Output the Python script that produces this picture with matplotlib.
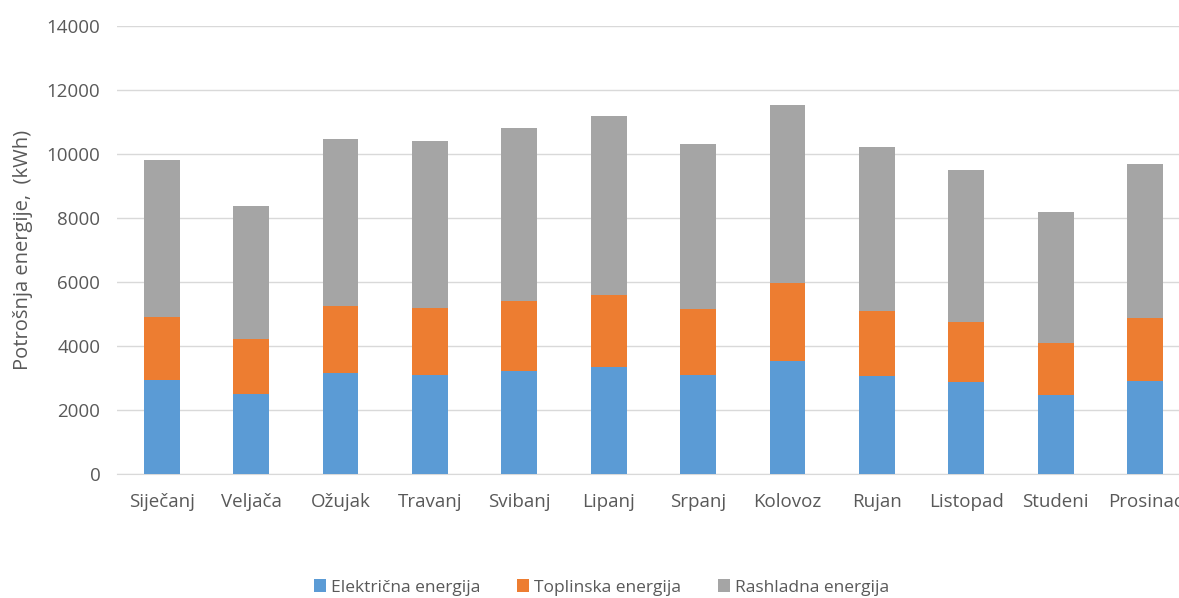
import numpy as np
import matplotlib.pyplot as plt

# Mjeseci i vrijednosti (kWh)
mjeseci = ['Siječanj', 'Veljača', 'Ožujak', 'Travanj', 'Svibanj', 'Lipanj',
           'Srpanj', 'Kolovoz', 'Rujan', 'Listopad', 'Studeni', 'Prosinac']
elektricna = [2950, 2500, 3150, 3100, 3220, 3350, 3100, 3540, 3060, 2870, 2480, 2920]
toplinska = [1950, 1730, 2100, 2100, 2180, 2250, 2070, 2430, 2040, 1870, 1620, 1940]
rashladna = [4900, 4140, 5230, 5200, 5400, 5600, 5130, 5550, 5110, 4760, 4090, 4830]

plt.rcParams['font.family'] = ['Open Sans', 'DejaVu Sans']

fig = plt.figure(figsize=(11.79, 5.98), dpi=100)
ax = fig.add_axes([0.0992, 0.2074, 0.910, 0.749])

x = np.arange(len(mjeseci))
el = np.array(elektricna)
top = np.array(toplinska)
ras = np.array(rashladna)

ax.bar(x, el, width=0.4, color='#5B9BD5', label='Električna energija', zorder=3)
ax.bar(x, top, width=0.4, bottom=el, color='#ED7D31', label='Toplinska energija', zorder=3)
ax.bar(x, ras, width=0.4, bottom=el + top, color='#A5A5A5', label='Rashladna energija', zorder=3)

ax.set_xlim(-0.5, len(mjeseci) - 0.5)
ax.set_ylim(0, 14000)
ax.set_yticks(np.arange(0, 14001, 2000))
ax.set_xticks(x)
ax.set_xticklabels(mjeseci)
ax.tick_params(axis='both', length=0, labelsize=13.5, colors='#595959')
ax.tick_params(axis='y', pad=12)
ax.tick_params(axis='x', pad=14)
ax.grid(axis='y', color='#d9d9d9', linewidth=1, zorder=0)
for s in ['top', 'right', 'left']:
    ax.spines[s].set_visible(False)
ax.spines['bottom'].set_color('#d9d9d9')
ax.set_ylabel('Potrošnja energije,  (kWh)', fontsize=14.5, color='#595959', labelpad=10)

fig.legend(loc='lower center', bbox_to_anchor=(0.51, -0.022), ncol=3, frameon=False,
           fontsize=12.5, labelcolor='#595959', handlelength=0.7, handleheight=0.7,
           handletextpad=0.3, columnspacing=2.1)

fig.savefig('out.png', dpi=100)
